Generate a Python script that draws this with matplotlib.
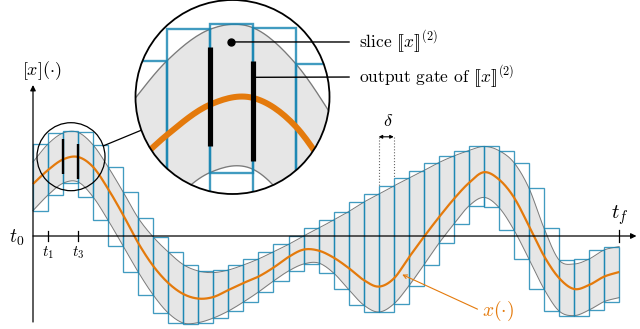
import numpy as np
import matplotlib
matplotlib.use('Agg')
from matplotlib import pyplot as plt
from matplotlib.patches import Rectangle, Ellipse, Circle, ConnectionPatch

plt.rcParams['mathtext.fontset'] = 'cm'

# tube and reference trajectory, read at every slice boundary t_k = k*delta
upper = [3.70, 4.60, 5.15, 5.18, 4.55, 3.45, 2.20, 0.90, -0.05, -0.80,
         -1.43, -1.75, -1.83, -1.70, -1.45, -1.15, -0.79, -0.42, 0.00, 0.39,
         0.80, 1.22, 1.69, 2.09, 2.50, 2.89, 3.27, 3.67, 4.00, 4.27,
         4.48, 4.27, 3.67, 2.39, 0.39, -1.20, -1.40, -1.15, -0.70, -0.53]
center = [2.60, 3.30, 3.83, 3.95, 3.45, 2.35, 1.05, -0.35, -1.50, -2.35,
          -2.90, -3.13, -3.05, -2.70, -2.35, -2.03, -1.58, -1.05, -0.68, -0.73,
          -1.08, -1.60, -2.20, -2.53, -2.13, -1.08, -0.05, 0.93, 1.85, 2.65,
          3.19, 2.83, 1.93, 0.50, -1.00, -2.10, -2.65, -2.45, -2.03, -1.80]
lower = [1.27, 2.05, 2.64, 2.70, 1.95, 0.78, -0.50, -1.80, -2.95, -3.85,
         -4.35, -4.33, -4.10, -3.75, -3.30, -2.80, -2.25, -1.75, -1.40, -1.35,
         -1.85, -2.67, -3.45, -3.80, -3.40, -2.50, -1.45, -0.37, 0.60, 1.50,
         1.93, 1.43, 0.30, -1.15, -2.65, -3.75, -3.98, -3.70, -3.28, -3.08]

# output gates drawn for slice 2
gate_t = [2, 3]
gate_lo = [3.10, 2.84]
gate_hi = [4.85, 4.60]
slice_dot = (2.5, 4.93)

t_ticks = [1, 3]
t_tick_labels = [r'$t_1$', r'$t_3$']

ORANGE = '#e47a0c'
BLUE = (0.09, 0.52, 0.70, 0.82)
GRAY = '#7a7a7a'
FILL = '#e6e6e6'


def smooth(v, n=16):
    # Catmull-Rom curve through the boundary values (drawing only)
    v = np.asarray(v, float)
    p = np.concatenate([[2 * v[0] - v[1]], v, [2 * v[-1] - v[-2]]])
    s = np.linspace(0, 1, n, endpoint=False)
    out = []
    for i in range(len(v) - 1):
        p0, p1, p2, p3 = p[i:i + 4]
        out.append(0.5 * (2 * p1 + (-p0 + p2) * s + (2 * p0 - 5 * p1 + 4 * p2 - p3) * s ** 2
                          + (-p0 + 3 * p1 - 3 * p2 + p3) * s ** 3))
    out.append([v[-1]])
    return np.concatenate(out)


N = 16
nslices = len(upper) - 1
tt = np.linspace(0, nslices, nslices * N + 1)
up_d, ce_d, lo_d = smooth(upper, N), smooth(center, N), smooth(lower, N)
tops = [up_d[i * N:(i + 1) * N + 1].max() for i in range(nslices)]
bots = [lo_d[i * N:(i + 1) * N + 1].min() for i in range(nslices)]


def draw_scene(ax, k, clip=None):
    arts = []
    arts.append(ax.fill_between(tt, lo_d, up_d, color=FILL, lw=0, zorder=1))
    arts += ax.plot(tt, up_d, color=GRAY, lw=0.7 * k ** 0.3, zorder=2)
    arts += ax.plot(tt, lo_d, color=GRAY, lw=0.7 * k ** 0.3, zorder=2)
    for i in range(nslices):
        r = Rectangle((i, bots[i]), 1, tops[i] - bots[i], fill=False, ec=BLUE,
                      lw=0.95 * k ** 0.55, zorder=3)
        ax.add_patch(r)
        arts.append(r)
    arts += ax.plot(tt, ce_d, color=ORANGE, lw=1.6 * k ** 0.95, zorder=4, solid_capstyle='butt')
    for t, a, b in zip(gate_t, gate_lo, gate_hi):
        arts += ax.plot([t, t], [a, b], color='black', lw=1.7 * k ** 0.75, zorder=5,
                        solid_capstyle='butt')
    if clip is not None:
        for a in arts:
            a.set_clip_path(clip)


fig = plt.figure(figsize=(6.4, 3.29), dpi=100)
ax = fig.add_axes([0, 0, 1, 1])
ax.set_xlim(-33 / 15.03, 607 / 15.03)
ax.set_ylim(-4.65, 11.8)
ax.axis('off')

draw_scene(ax, 1.0)

# axes with arrows
arr = dict(arrowstyle='-|>', lw=0.9, color='black', mutation_scale=8, shrinkA=0, shrinkB=0)
ax.annotate('', xy=(40.15, 0), xytext=(0, 0), arrowprops=arr, zorder=6)
ax.annotate('', xy=(0, 7.55), xytext=(0, -4.3), arrowprops=arr, zorder=6)
for t in t_ticks:
    ax.plot([t, t], [-0.27, 0.27], color='black', lw=0.9, zorder=6)
ax.plot([nslices, nslices], [-0.3, 0.3], color='black', lw=0.9, zorder=6)
for t, lab in zip(t_ticks, t_tick_labels):
    ax.text(t, -0.85, lab, fontsize=11, ha='center', va='center')
ax.text(-1.06, -0.1, r'$t_0$', fontsize=14, ha='center', va='center')
ax.text(nslices + 0.05, 1.05, r'$t_f$', fontsize=15, ha='center', va='center')
ax.text(0.6, 8.25, r'$[x](\cdot)$', fontsize=13, ha='center', va='center')

# delta annotation
d0 = 23
ax.annotate('', xy=(d0, 4.96), xytext=(d0 + 1, 4.96),
            arrowprops=dict(arrowstyle='<|-|>', lw=0.8, color='black', mutation_scale=5,
                            shrinkA=0, shrinkB=0))
for t in (d0, d0 + 1):
    ax.plot([t, t], [4.96, max(tops[t - 1], tops[t])], color='#666666', lw=0.8, ls=':', zorder=6)
ax.text(d0 + 0.6, 5.75, r'$\delta$', fontsize=13, ha='center', va='center')

# x(.) label
ax.annotate(r'$x(\cdot)$', xy=(24.48, -1.9), xytext=(30.9, -3.75), color=ORANGE,
            fontsize=14, ha='center', va='center',
            arrowprops=dict(arrowstyle='->', color=ORANGE, lw=0.8, shrinkA=1, shrinkB=1,
                            relpos=(0, 0.5), mutation_scale=7))

# small magnifier circle in the main plot
cx, cy, rx, ry = 2.528, 3.965, 34 / 15.03, 34 / 20
ax.add_patch(Ellipse((cx, cy), 2 * rx, 2 * ry, fill=False, ec='black', lw=0.9, zorder=7))

# magnified view
ax_in = fig.add_axes([135.5 / 640, 1 - 194 / 329, 194 / 640, 194 / 329])
ax_in.set_xlim(cx - rx, cx + rx)
ax_in.set_ylim(cy - ry, cy + ry)
ax_in.axis('off')
clip = Circle((0.5, 0.5), 0.5, transform=ax_in.transAxes)
bg = Circle((0.5, 0.5), 0.5, transform=ax_in.transAxes, fc='white', ec='none', zorder=0)
ax_in.add_patch(bg)
draw_scene(ax_in, 97 / 34, clip)
ax_in.plot(*slice_dot, 'o', color='black', ms=5, zorder=8)
ax_in.add_patch(Circle((0.5, 0.5), 0.5, transform=ax_in.transAxes, fill=False,
                       ec='black', lw=1.3, zorder=9, clip_on=False))

a1, a2 = np.deg2rad(18.5), np.deg2rad(200)
con = ConnectionPatch(xyA=(cx + rx * np.cos(a1), cy + ry * np.sin(a1)), coordsA=ax.transData,
                      xyB=(0.5 + 0.5 * np.cos(a2), 0.5 + 0.5 * np.sin(a2)),
                      coordsB=ax_in.transAxes, color='black', lw=0.9)
fig.add_artist(con)

lead = dict(arrowstyle='-', lw=1.0, color='black', shrinkA=5, shrinkB=0, relpos=(0, 0.5))
ax_in.annotate(r'slice $[\![x]\!]^{(2)}$', xy=slice_dot, xytext=(359 / 640, 1 - 42 / 329),
               textcoords='figure fraction', fontsize=12.5, family='cmr10',
               ha='left', va='center', arrowprops=lead, annotation_clip=False)
ax_in.annotate(r'output gate of $[\![x]\!]^{(2)}$', xy=(3.0, 4.31),
               xytext=(359 / 640, 1 - 77 / 329), textcoords='figure fraction',
               fontsize=12.5, family='cmr10', ha='left', va='center',
               arrowprops=lead, annotation_clip=False)

plt.savefig('out.png', dpi=100)
